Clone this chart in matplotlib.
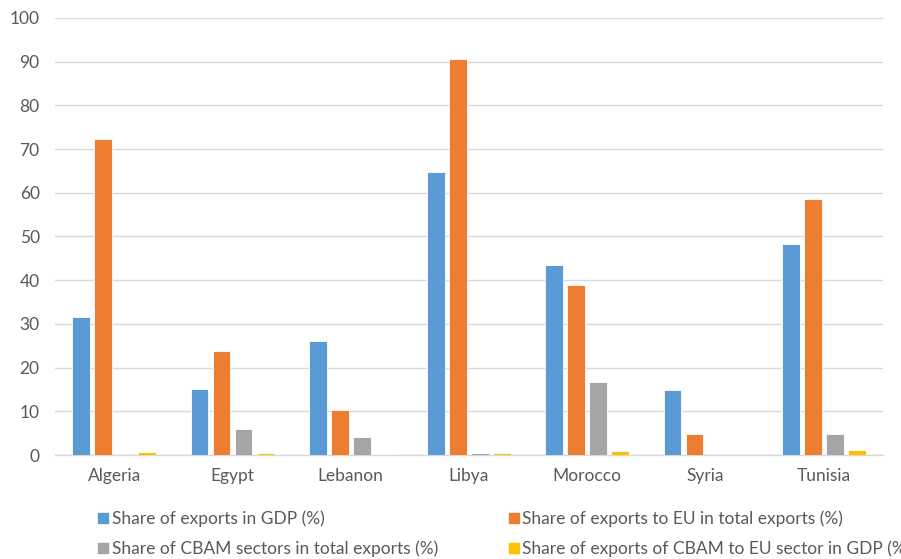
import matplotlib
matplotlib.use("Agg")
import matplotlib.pyplot as plt
from matplotlib.lines import Line2D
import numpy as np

countries = ["Algeria", "Egypt", "Lebanon", "Libya", "Morocco", "Syria", "Tunisia"]
exports_gdp = [31.6, 15.1, 26.0, 64.8, 43.5, 14.8, 48.2]
exports_eu = [72.4, 23.7, 10.4, 90.6, 39.0, 4.8, 58.6]
cbam_exports = [0.0, 6.0, 4.2, 0.45, 16.8, 0.0, 4.7]
cbam_eu_gdp = [0.8, 0.5, 0.3, 0.4, 1.0, 0.0, 1.07]

series_labels = [
    "Share of exports in GDP (%)",
    "Share of exports to EU in total exports (%)",
    "Share of CBAM sectors in total exports (%)",
    "Share of exports of CBAM to EU sector in GDP (%)",
]
colors = ["#5B9BD5", "#ED7D31", "#A5A5A5", "#FFC000"]
yticks = list(range(0, 101, 10))

plt.rcParams["font.family"] = ["Lato", "DejaVu Sans"]

fig = plt.figure(figsize=(9.01, 5.59), dpi=100)
ax = fig.add_axes([0.061, 0.186, 0.919, 0.782])

x = np.arange(len(countries))
slot = 0.186
width = 0.15
series = [exports_gdp, exports_eu, cbam_exports, cbam_eu_gdp]
for i, (vals, col) in enumerate(zip(series, colors)):
    offs = (i - 1.5) * slot
    ax.bar(x + offs, vals, width=width, color=col, edgecolor="white", linewidth=0.6, zorder=3)

ax.set_xlim(-0.5, len(countries) - 0.5)
ax.set_ylim(0, 100)
ax.set_yticks(yticks)
ax.set_yticklabels([str(t) for t in yticks])
ax.set_xticks(x)
ax.set_xticklabels(countries)
ax.tick_params(axis="both", length=0, labelsize=12.5, colors="#595959")
ax.tick_params(axis="x", pad=9)
ax.tick_params(axis="y", pad=11)
ax.grid(axis="y", color="#D9D9D9", linewidth=1, zorder=0)
for side in ["left", "right", "top"]:
    ax.spines[side].set_visible(False)
ax.spines["bottom"].set_color("#D9D9D9")
ax.spines["bottom"].set_linewidth(1)

# legend fills column-wise, so order entries to read row by row
order = [0, 2, 1, 3]
handles = [Line2D([0], [0], marker="s", linestyle="none", markersize=7,
                  markerfacecolor=colors[k], markeredgecolor=colors[k]) for k in order]
labels = [series_labels[k] for k in order]
fig.legend(handles, labels, ncol=2, loc="upper left",
           bbox_to_anchor=(0.099, 0.1), frameon=False, fontsize=12.5,
           labelcolor="#595959", handletextpad=0.1, columnspacing=3.95,
           labelspacing=0.8, handlelength=0.8, borderaxespad=0)

fig.savefig("out.png", dpi=100)
